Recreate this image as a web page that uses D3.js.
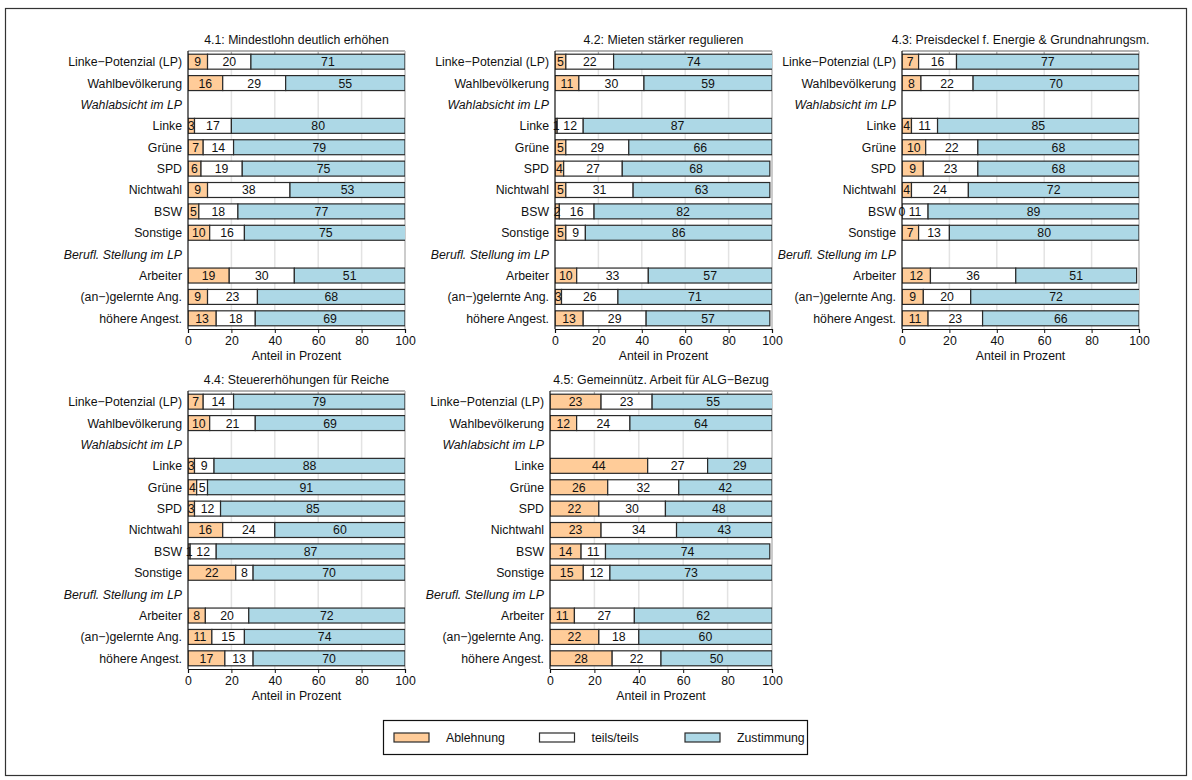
<!DOCTYPE html>
<html>
<head>
<meta charset="utf-8">
<script src="https://cdn.jsdelivr.net/npm/d3@7"></script>
<style>
  body { margin: 0; background: #fff; }
  svg { font-family: "Liberation Sans", Arial, Helvetica, sans-serif; }
</style>
</head>
<body>
<svg id="chart" width="1192" height="780"></svg>
<script>
// Row labels (two italic group headers carry no bars)
const rowLabels = ["Linke−Potenzial (LP)", "Wahlbevölkerung", "Wahlabsicht im LP", "Linke", "Grüne", "SPD",
  "Nichtwahl", "BSW", "Sonstige", "Berufl. Stellung im LP", "Arbeiter", "(an−)gelernte Ang.", "höhere Angest."];
const headerRows = ["Wahlabsicht im LP", "Berufl. Stellung im LP"];
const dataRows = ["Linke−Potenzial (LP)", "Wahlbevölkerung", "Linke", "Grüne", "SPD", "Nichtwahl", "BSW",
  "Sonstige", "Arbeiter", "(an−)gelernte Ang.", "höhere Angest."];

const categories = ["Ablehnung", "teils/teils", "Zustimmung"];
const colors = ["#FFCC99", "#FFFFFF", "#ADD8E6"];

const titles = ["4.1: Mindestlohn deutlich erhöhen", "4.2: Mieten stärker regulieren",
  "4.3: Preisdeckel f. Energie & Grundnahrungsm.", "4.4: Steuererhöhungen für Reiche",
  "4.5: Gemeinnütz. Arbeit für ALG−Bezug"];

// [Ablehnung, teils/teils, Zustimmung] per row, in dataRows order
const mindestlohn = [[9,20,71],[16,29,55],[3,17,80],[7,14,79],[6,19,75],[9,38,53],[5,18,77],[10,16,75],[19,30,51],[9,23,68],[13,18,69]];
const mieten      = [[5,22,74],[11,30,59],[1,12,87],[5,29,66],[4,27,68],[5,31,63],[2,16,82],[5,9,86],[10,33,57],[3,26,71],[13,29,57]];
const preisdeckel = [[7,16,77],[8,22,70],[4,11,85],[10,22,68],[9,23,68],[4,24,72],[0,11,89],[7,13,80],[12,36,51],[9,20,72],[11,23,66]];
const steuern     = [[7,14,79],[10,21,69],[3,9,88],[4,5,91],[3,12,85],[16,24,60],[1,12,87],[22,8,70],[8,20,72],[11,15,74],[17,13,70]];
const arbeitALG   = [[23,23,55],[12,24,64],[44,27,29],[26,32,42],[22,30,48],[23,34,43],[14,11,74],[15,12,73],[11,27,62],[22,18,60],[28,22,50]];

const tickValues = [0, 20, 40, 60, 80, 100];
const axisTitle = "Anteil in Prozent";

const panelValues = [mindestlohn, mieten, preisdeckel, steuern, arbeitALG];
// plot rectangles of the five panels
const panelBoxes = [
  {x0: 188, x1: 405, y0: 51, y1: 329},
  {x0: 555, x1: 772, y0: 51, y1: 329},
  {x0: 902, x1: 1139, y0: 51, y1: 329},
  {x0: 188, x1: 405, y0: 391, y1: 669},
  {x0: 550, x1: 772, y0: 391, y1: 669}
];

const svg = d3.select("#chart");
const FS = 12.3;

// outer frame
svg.append("rect").attr("x", 5.5).attr("y", 8.5).attr("width", 1181).attr("height", 767)
  .attr("fill", "none").attr("stroke", "#333").attr("stroke-width", 1.2);

const defs = svg.append("defs");

panelValues.forEach((vals, pi) => {
  const b = panelBoxes[pi];
  const g = svg.append("g");
  const x = d3.scaleLinear().domain([0, 100]).range([b.x0, b.x1]);
  const y = d3.scaleBand().domain(rowLabels).range([b.y0, b.y1]).paddingInner(0.3).paddingOuter(0.15);

  defs.append("clipPath").attr("id", "clip" + pi).append("rect")
    .attr("x", b.x0).attr("y", b.y0).attr("width", b.x1 - b.x0).attr("height", b.y1 - b.y0);

  // vertical grid
  g.append("g").selectAll("line").data(tickValues.slice(1, -1)).join("line")
    .attr("x1", d => x(d)).attr("x2", d => x(d)).attr("y1", b.y0).attr("y2", b.y1)
    .attr("stroke", "#e3e3e3").attr("stroke-width", 1.5);

  // top and right frame, grey, with short inner ticks at the top
  g.append("line").attr("x1", b.x0).attr("x2", b.x1).attr("y1", b.y0).attr("y2", b.y0)
    .attr("stroke", "#999").attr("stroke-width", 1.3);
  g.append("line").attr("x1", b.x1).attr("x2", b.x1).attr("y1", b.y0).attr("y2", b.y1)
    .attr("stroke", "#bbb").attr("stroke-width", 1.5);
  g.append("g").selectAll("line").data(tickValues.slice(1, -1)).join("line")
    .attr("x1", d => x(d)).attr("x2", d => x(d)).attr("y1", b.y0).attr("y2", b.y0 + 3)
    .attr("stroke", "#aaa");

  // stacked bars, each segment followed by its value label
  const bars = g.append("g").attr("clip-path", `url(#clip${pi})`);
  const labels = g.append("g");
  dataRows.forEach((row, ri) => {
    let cum = 0;
    vals[ri].forEach((v, ci) => {
      bars.append("rect")
        .attr("x", x(cum)).attr("width", x(cum + v) - x(cum))
        .attr("y", y(row)).attr("height", y.bandwidth())
        .attr("fill", colors[ci]).attr("stroke", "#2a2a2a").attr("stroke-width", 1.2);
      labels.append("text")
        .attr("x", x(cum + v / 2)).attr("y", y(row) + y.bandwidth() / 2)
        .attr("dy", "0.36em").attr("text-anchor", "middle")
        .attr("font-size", FS).attr("fill", "#111").text(v);
      cum += v;
    });
  });

  // row labels
  g.append("g").selectAll("text").data(rowLabels).join("text")
    .attr("x", b.x0 - 6).attr("y", d => y(d) + y.bandwidth() / 2).attr("dy", "0.36em")
    .attr("text-anchor", "end").attr("font-size", FS).attr("fill", "#111")
    .attr("font-style", d => headerRows.includes(d) ? "italic" : "normal")
    .text(d => d);

  // left axis line
  g.append("line").attr("x1", b.x0).attr("x2", b.x0).attr("y1", b.y0).attr("y2", b.y1)
    .attr("stroke", "#111").attr("stroke-width", 1.2);

  // bottom axis
  const ax = g.append("g").attr("transform", `translate(0,${b.y1})`)
    .call(d3.axisBottom(x).tickValues(tickValues).tickSize(4).tickPadding(3).tickFormat(d3.format("d")));
  ax.select(".domain").attr("stroke", "#111").attr("stroke-width", 1.2);
  ax.selectAll(".tick line").attr("stroke", "#111");
  ax.selectAll("text").attr("font-size", FS).attr("fill", "#111")
    .attr("font-family", "Liberation Sans, Arial, sans-serif");

  g.append("text").attr("x", (b.x0 + b.x1) / 2).attr("y", b.y1 + 31)
    .attr("text-anchor", "middle").attr("font-size", FS).attr("fill", "#111").text(axisTitle);

  // panel title
  g.append("text").attr("x", (b.x0 + b.x1) / 2).attr("y", b.y0 - 7)
    .attr("text-anchor", "middle").attr("font-size", FS).attr("fill", "#111").text(titles[pi]);
});

// legend
const lg = svg.append("g");
lg.append("rect").attr("x", 383.5).attr("y", 720.5).attr("width", 424).attr("height", 34)
  .attr("fill", "#fff").attr("stroke", "#111").attr("stroke-width", 1.2);
const legendX = d3.scalePoint().domain(categories).range([394, 685]);
categories.forEach((c, i) => {
  lg.append("rect").attr("x", legendX(c)).attr("y", 733).attr("width", 35).attr("height", 9)
    .attr("fill", colors[i]).attr("stroke", "#2a2a2a").attr("stroke-width", 1.2);
  lg.append("text").attr("x", legendX(c) + 52).attr("y", 737.5).attr("dy", "0.36em")
    .attr("font-size", FS).attr("fill", "#111").text(c);
});
</script>
</body>
</html>
